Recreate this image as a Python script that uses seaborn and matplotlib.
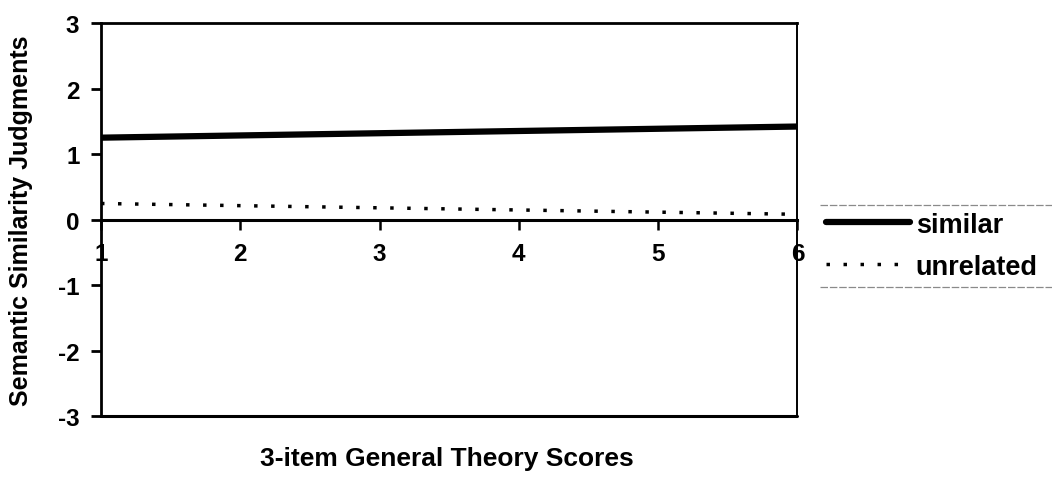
import seaborn as sns
import matplotlib.pyplot as plt
import pandas as pd
from matplotlib.lines import Line2D

# regression lines (endpoints at x=1 and x=6)
x_vals = [1, 6]
similar = [1.25, 1.42]
unrelated = [0.245, 0.08]
x_ticks = [1, 2, 3, 4, 5, 6]
y_ticks = [-3, -2, -1, 0, 1, 2, 3]

df = pd.DataFrame({
    'score': x_vals * 2,
    'judgment': similar + unrelated,
    'series': ['similar'] * 2 + ['unrelated'] * 2,
})

sns.set_theme(style='ticks')
plt.rcParams['font.family'] = ['Liberation Sans', 'DejaVu Sans']
plt.rcParams['font.weight'] = 'bold'
plt.rcParams['axes.labelweight'] = 'bold'
plt.rcParams['axes.unicode_minus'] = False

fig = plt.figure(figsize=(10.52, 4.81), dpi=100)
ax = fig.add_axes([0.096, 0.133, 0.662, 0.817])

sns.lineplot(df[df.series == 'similar'], x='score', y='judgment', color='black',
             linewidth=4.5, ax=ax, label='similar')
sns.lineplot(df[df.series == 'unrelated'], x='score', y='judgment', color='black',
             linewidth=2.5, ax=ax, label='unrelated')
ax.lines[1].set_dashes((1.0, 3.9))

ax.set_xlim(1, 6)
ax.set_ylim(-3, 3)
ax.set_xticks(x_ticks)
ax.set_yticks(y_ticks)
ax.tick_params(axis='x', direction='out', length=7, width=1.8, labelsize=17.5, pad=9,
               colors='black')
ax.tick_params(axis='y', direction='out', length=7.5, width=2, labelsize=17.5, pad=8,
               colors='black')

for s in ax.spines.values():
    s.set_color('black')
    s.set_linewidth(2)
ax.spines['right'].set_linewidth(1.4)
ax.spines['bottom'].set_position(('data', 0))
ax.spines['bottom'].set_linewidth(2.2)
ax.axhline(-3, color='black', linewidth=2.2, clip_on=False)

ax.set_xlabel('3-item General Theory Scores', fontsize=19, fontweight='bold', color='black')
ax.xaxis.set_label_coords(0.496, -0.075)
ax.set_ylabel('Semantic Similarity Judgments', fontsize=18, fontweight='bold', color='black')
ax.yaxis.set_label_coords(-0.098, 0.5)

leg = ax.legend(loc='upper left', bbox_to_anchor=(1.032, 0.5375), borderaxespad=0,
                handlelength=3.1, handletextpad=0.2, labelspacing=0.6,
                frameon=False, borderpad=0.25, prop={'weight': 'bold', 'size': 19.5})
for t in leg.get_texts():
    t.set_color('black')

# faint rules above and below the legend, like the original
fig.canvas.draw()
bb = leg.get_window_extent().transformed(fig.transFigure.inverted())
for yy in (bb.y0, bb.y1):
    fig.add_artist(Line2D([bb.x0, 1.0], [yy, yy], color='#8a8a8a', linewidth=0.9,
                          linestyle=(0, (6, 1.5))))

plt.savefig('out.png', dpi=100)
